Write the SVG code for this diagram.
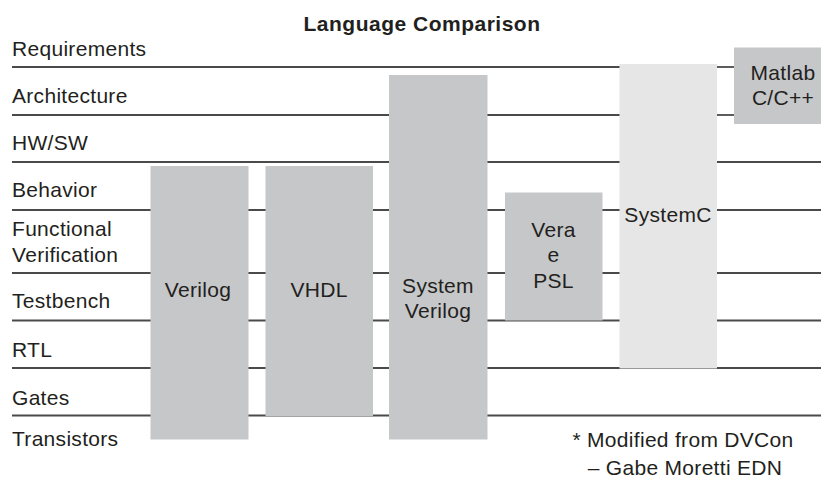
<svg xmlns="http://www.w3.org/2000/svg" width="821" height="478" viewBox="0 0 821 478">
  <style>
    text { font-family: "Liberation Sans", Arial, sans-serif; fill: #231f20; font-size: 21px; letter-spacing: 0.3px; }
    .title { font-weight: bold; font-size: 21px; letter-spacing: 0.5px; text-anchor: middle; }
    .lbl { text-anchor: start; }
    .c { text-anchor: middle; }
    .rule { stroke: #4a4a4a; stroke-width: 1.8; fill: none; }
    .box { fill: #c6c7c9; }
    .light { fill: #e6e6e6; }
  </style>
  <rect width="821" height="478" fill="#ffffff"/>

  <text class="title" x="422" y="31">Language Comparison</text>

  <!-- abstraction levels -->
  <g id="levels">
    <text class="lbl" x="12" y="56">Requirements</text>
    <text class="lbl" x="12" y="103">Architecture</text>
    <text class="lbl" x="12" y="150">HW/SW</text>
    <text class="lbl" x="12" y="197">Behavior</text>
    <text class="lbl" x="12" y="236">Functional</text>
    <text class="lbl" x="12" y="262">Verification</text>
    <text class="lbl" x="12" y="308">Testbench</text>
    <text class="lbl" x="12" y="357">RTL</text>
    <text class="lbl" x="12" y="405">Gates</text>
    <text class="lbl" x="12" y="446">Transistors</text>
  </g>

  <!-- level separators -->
  <g id="connectors">
    <line class="rule" x1="12" y1="67" x2="620" y2="67"/>
    <line class="rule" x1="717" y1="67" x2="734" y2="67"/>
    <line class="rule" x1="12" y1="115" x2="389" y2="115"/>
    <line class="rule" x1="487" y1="115" x2="620" y2="115"/>
    <line class="rule" x1="717" y1="115" x2="734" y2="115"/>
    <line class="rule" x1="12" y1="162" x2="389" y2="162"/>
    <line class="rule" x1="487" y1="162" x2="620" y2="162"/>
    <line class="rule" x1="717" y1="162" x2="821" y2="162"/>
    <line class="rule" x1="12" y1="210" x2="821" y2="210"/>
    <line class="rule" x1="12" y1="273" x2="821" y2="273"/>
    <line class="rule" x1="12" y1="320.5" x2="821" y2="320.5"/>
    <line class="rule" x1="12" y1="368" x2="821" y2="368"/>
    <line class="rule" x1="12" y1="415.5" x2="821" y2="415.5"/>
  </g>

  <g id="verilog">
    <rect class="box" x="150.5" y="166" width="98" height="273.5"/>
    <text class="c" x="198" y="297">Verilog</text>
  </g>
  <g id="vhdl">
    <rect class="box" x="265.5" y="166" width="107.5" height="250"/>
    <text class="c" x="319" y="297">VHDL</text>
  </g>
  <g id="systemverilog">
    <rect class="box" x="389" y="75" width="98.5" height="364.5"/>
    <text class="c" x="438" y="293">System</text>
    <text class="c" x="438" y="318">Verilog</text>
  </g>
  <g id="vera">
    <rect class="box" x="505" y="192.5" width="97.5" height="128"/>
    <text class="c" x="553.5" y="237">Vera</text>
    <text class="c" x="553.5" y="262">e</text>
    <text class="c" x="553.5" y="288">PSL</text>
  </g>
  <g id="systemc">
    <rect class="light" x="619.5" y="64" width="97.5" height="304.5"/>
    <text class="c" x="668" y="222">SystemC</text>
  </g>
  <g id="matlab">
    <rect class="box" x="734" y="47.5" width="87" height="76.5"/>
    <text class="c" x="783" y="80">Matlab</text>
    <text class="c" x="783" y="105">C/C++</text>
  </g>

  <g id="note">
    <text class="c" x="683" y="447">* Modified from DVCon</text>
    <text class="c" x="685" y="475">– Gabe Moretti EDN</text>
  </g>
</svg>
